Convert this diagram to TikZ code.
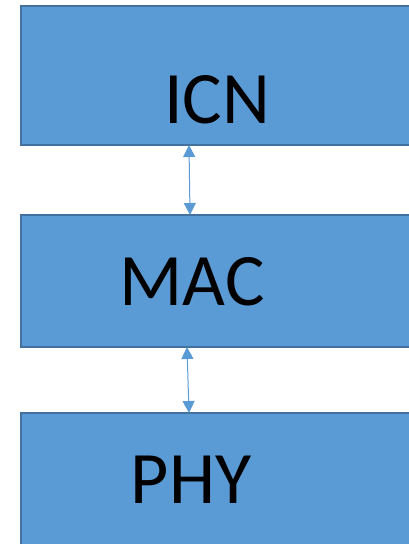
\documentclass[tikz,border=0pt]{standalone}
\usepackage{fontspec}
\setmainfont{Carlito}
\usetikzlibrary{arrows.meta, positioning}
\definecolor{layerfill}{HTML}{5B9BD5}
\definecolor{layeredge}{HTML}{41719C}
\tikzset{>={Triangle[width=12pt,length=12pt]}}
\tikzset{layer/.style={draw=layeredge, fill=layerfill, line width=1.5pt, minimum width=392pt, inner sep=0pt, outer sep=0pt},
	layername/.style={anchor=base, inner sep=0pt, font=\fontsize{74}{74}\selectfont},
	link/.style={<->, draw=layerfill, line width=1pt}}

\begin{document}
\begin{tikzpicture}[x=1pt, y=-1pt]
		\useasboundingbox (0,0) rectangle (409,544);
		\clip (0,0) rectangle (409,544);
		
		\node[layer, minimum height=139pt] (icn) at (217,75.5) {};
		\node[layer, minimum height=132pt] (mac) at (217,281) {};
		\node[layer, minimum height=138pt] (phy) at (217,482) {};
		
		\node[layername] (icnname) at (217,123) {ICN};
		\node[layername] (macname) at (192,305) {MAC};
		\node[layername] (phyname) at (191,503) {PHY};
		
		\draw[link] ([xshift=-28pt]icn.south) -- ([xshift=-27pt]mac.north);
		\draw[link] ([xshift=-30pt]mac.south) -- ([xshift=-28pt]phy.north);
	\end{tikzpicture}
\end{document}
